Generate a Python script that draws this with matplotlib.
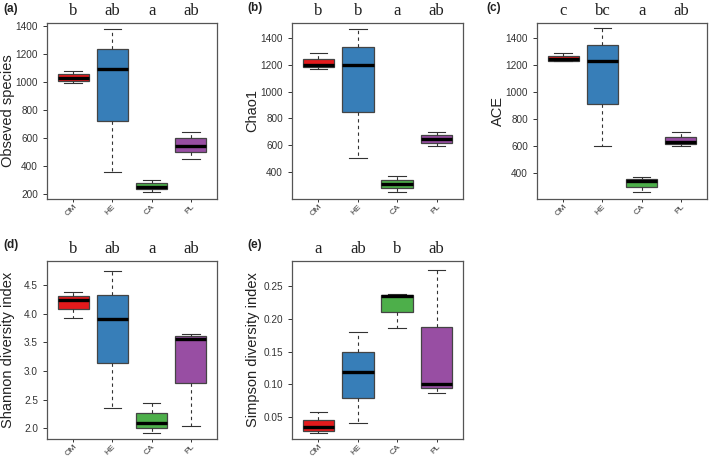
import matplotlib
matplotlib.use("Agg")
import matplotlib.pyplot as plt
import matplotlib.transforms as mtransforms
from matplotlib.ticker import FormatStrFormatter

plt.rcParams['font.family'] = ['Liberation Sans', 'DejaVu Sans']

groups = ["OM", "HE", "CA", "PL"]
colors = ["#e41a1c", "#377eb8", "#4daf4a", "#984ea3"]

# each: [whislo, q1, med, q3, whishi] per group
obs_species = [[990, 1010, 1030, 1055, 1075],
               [355, 720, 1090, 1235, 1380],
               [215, 235, 250, 275, 300],
               [450, 500, 545, 597, 645]]
chao1 = [[1165, 1180, 1195, 1240, 1285],
         [505, 850, 1195, 1330, 1465],
         [255, 285, 310, 345, 375],
         [595, 620, 648, 675, 700]]
ace = [[1225, 1230, 1245, 1265, 1290],
       [600, 910, 1225, 1350, 1475],
       [255, 295, 340, 355, 370],
       [600, 610, 630, 665, 705]]
shannon = [[3.93, 4.09, 4.23, 4.31, 4.38],
           [2.36, 3.13, 3.90, 4.33, 4.75],
           [1.91, 2.00, 2.09, 2.26, 2.44],
           [2.04, 2.79, 3.56, 3.61, 3.65]]
simpson = [[0.025, 0.029, 0.034, 0.045, 0.057],
           [0.040, 0.079, 0.119, 0.150, 0.180],
           [0.187, 0.211, 0.235, 0.237, 0.238],
           [0.087, 0.094, 0.101, 0.188, 0.275]]

letters_a = ["b", "ab", "a", "ab"]
letters_b = ["b", "b", "a", "ab"]
letters_c = ["c", "bc", "a", "ab"]
letters_d = ["b", "ab", "a", "ab"]
letters_e = ["a", "ab", "b", "ab"]

W, H = 709, 459
fig = plt.figure(figsize=(W / 100, H / 100), dpi=100)

def rect(l, r, t, b):
    return [l / W, 1 - b / H, (r - l) / W, (b - t) / H]

panels = [
    ("(a)", rect(47, 217, 23, 199), obs_species, letters_a, "Obseved species",
     (164, 1421), list(range(200, 1401, 200)), "%d", (3, 9)),
    ("(b)", rect(292, 463, 23, 199), chao1, letters_b, "Chao1",
     (202, 1509), list(range(400, 1401, 200)), "%d", (247, 8)),
    ("(c)", rect(537, 707, 23, 199), ace, letters_c, "ACE",
     (205, 1510), list(range(400, 1401, 200)), "%d", (486, 8)),
    ("(d)", rect(47, 217, 261, 439), shannon, letters_d, "Shannon diversity index",
     (1.81, 4.92), [2.0, 2.5, 3.0, 3.5, 4.0, 4.5], "%.1f", (3, 245)),
    ("(e)", rect(292, 463, 261, 439), simpson, letters_e, "Simpson diversity index",
     (0.016, 0.289), [0.05, 0.10, 0.15, 0.20, 0.25], "%.2f", (247, 245)),
]

spine_col = "#555555"
for lab, r, data, letters, ylab, ylim, yticks, fmt, lpos in panels:
    ax = fig.add_axes(r)
    stats = []
    for g, d in zip(groups, data):
        stats.append(dict(label=g, whislo=d[0], q1=d[1], med=d[2], q3=d[3], whishi=d[4], fliers=[]))
    bp = ax.bxp(stats, positions=[1, 2, 3, 4], widths=0.8, patch_artist=True, showfliers=False,
                boxprops=dict(edgecolor="#444444", linewidth=0.9),
                medianprops=dict(color="black", linewidth=2.4),
                whiskerprops=dict(color="#333333", linestyle=(0, (3, 3)), linewidth=0.8),
                capprops=dict(color="#333333", linewidth=0.8),
                capwidths=0.45)
    for patch, c in zip(bp["boxes"], colors):
        patch.set_facecolor(c)
    ax.set_xlim(0.33, 4.67)
    ax.set_ylim(*ylim)
    ax.set_yticks(yticks)
    ax.yaxis.set_major_formatter(FormatStrFormatter(fmt))
    ax.set_xticks([1, 2, 3, 4])
    ax.set_xticklabels(groups, rotation=45, fontsize=6.0, color="#333333",
                       ha="right", rotation_mode="anchor")
    ax.tick_params(axis="y", labelsize=7.2, colors="#333333", length=3, width=0.7)
    ax.tick_params(axis="x", length=2.5, width=0.7, colors="#333333", pad=0.5)
    for s in ax.spines.values():
        s.set_color(spine_col)
        s.set_linewidth(0.9)
    ax.set_ylabel(ylab, fontsize=10.5, va="center", color="#222222")
    ax.yaxis.set_label_coords(-0.23, 0.5)
    trans = mtransforms.blended_transform_factory(ax.transData, ax.transAxes)
    for i, t in enumerate(letters):
        ax.text(i + 1, 1.07, t, transform=trans, ha="center", va="center",
                fontsize=12, family="Liberation Serif", color="#222222")
    fig.text(lpos[0] / W, 1 - lpos[1] / H, lab, fontsize=8.5, fontweight="bold",
             ha="left", va="center", color="#222222")

fig.savefig("out.png", dpi=100)
